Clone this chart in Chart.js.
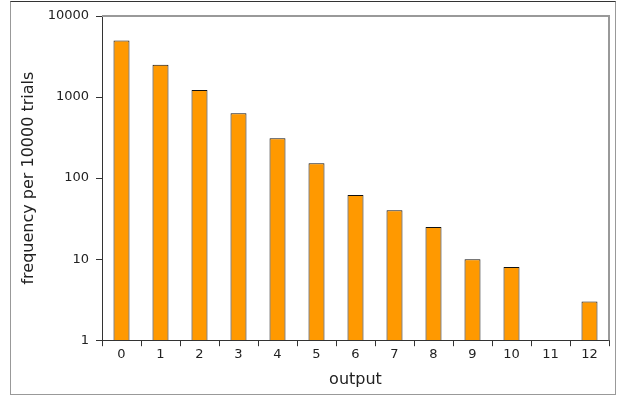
<!DOCTYPE html>
<html>
<head>
<meta charset="utf-8">
<script src="https://cdn.jsdelivr.net/npm/chart.js@4/dist/chart.umd.min.js"></script>
<style>
    html, body { margin: 0; padding: 0; background: #fff; }
    #wrap { position: relative; width: 619px; height: 396px; }
    #frame {
        position: absolute; left: 10px; top: 1px; width: 604px; height: 392px;
        border: 1px solid #999; border-top-color: #333;
    }
    canvas { position: absolute; left: 0; top: 0; }
</style>
</head>
<body>
<div id="wrap">
    <div id="frame"></div>
    <canvas id="chart" width="619" height="396"></canvas>
</div>
<script>
const outputs = ['0', '1', '2', '3', '4', '5', '6', '7', '8', '9', '10', '11', '12'];
const frequency = [5000, 2500, 1220, 630, 310, 152, 62, 40, 25, 10, 8, 1, 3];
const yTicks = [1, 10, 100, 1000, 10000];

// grey box on the top and right of the plot area
const plotBorder = {
    id: 'plotBorder',
    beforeDatasetsDraw(chart) {
        const { ctx, chartArea: a } = chart;
        ctx.save();
        ctx.strokeStyle = '#999';
        ctx.lineWidth = 2;
        ctx.beginPath();
        ctx.moveTo(a.left, a.top);
        ctx.lineTo(a.right, a.top);
        ctx.lineTo(a.right, a.bottom);
        ctx.stroke();
        ctx.restore();
    }
};

Chart.defaults.font.family = "'DejaVu Sans', sans-serif";
Chart.defaults.color = '#222';

new Chart(document.getElementById('chart').getContext('2d'), {
    type: 'bar',
    data: {
        labels: outputs,
        datasets: [{
            data: frequency,
            backgroundColor: '#ff9900',
            borderColor: '#111',
            borderWidth: 1,
            borderSkipped: 'bottom',
            barPercentage: 0.41,
            categoryPercentage: 1
        }]
    },
    options: {
        responsive: false,
        animation: false,
        layout: { padding: { left: 19, top: 16, right: 10, bottom: 7 } },
        plugins: { legend: { display: false }, tooltip: { enabled: false } },
        scales: {
            x: {
                offset: true,
                grid: { offset: true, drawOnChartArea: false, drawTicks: true, tickLength: 6, color: '#333' },
                border: { color: '#333', width: 1 },
                ticks: { font: { size: 13 }, padding: 1, color: '#222' },
                title: { display: true, text: 'output', font: { size: 16 }, color: '#222', padding: { top: 6, bottom: 0 } }
            },
            y: {
                type: 'logarithmic',
                min: 1,
                max: 10000,
                afterBuildTicks(scale) {
                    scale.ticks = yTicks.map(v => ({ value: v }));
                },
                afterFit(scale) {
                    scale.width = 83;
                },
                grid: { drawOnChartArea: false, drawTicks: true, tickLength: 6, color: '#333' },
                border: { color: '#333', width: 1 },
                ticks: {
                    font: { size: 13 },
                    padding: 7,
                    color: '#222',
                    callback: v => String(v)
                },
                title: { display: true, text: 'frequency per 10000 trials', font: { size: 16 }, color: '#222', padding: 0 }
            }
        }
    },
    plugins: [plotBorder]
});
</script>
</body>
</html>
